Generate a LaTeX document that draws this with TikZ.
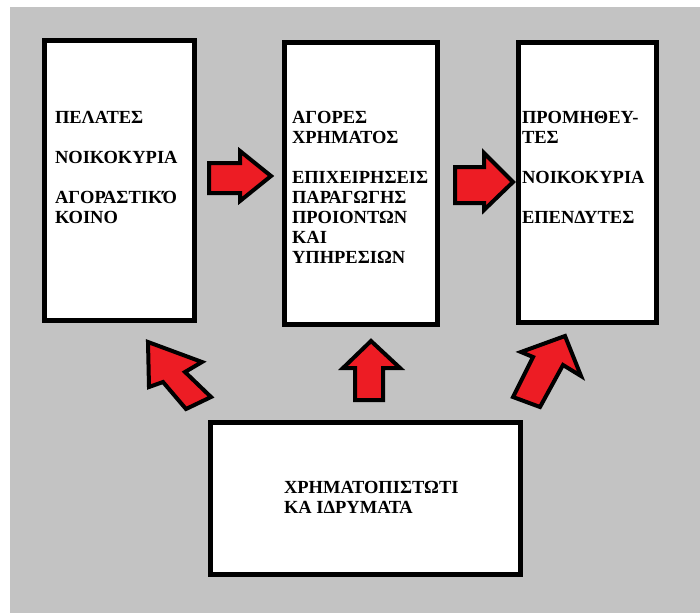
\documentclass[tikz,border=0pt]{standalone}
\usepackage{fontspec}
\setmainfont{Liberation Serif}
\definecolor{bggray}{RGB}{195,195,195}
\definecolor{arrowred}{RGB}{237,28,36}
\begin{document}
\begin{tikzpicture}[x=1pt,y=-1pt,
  box/.style={draw=black,line width=5pt,fill=white,inner sep=0pt,outer sep=0pt},
  label/.style={anchor=north west,inner sep=0pt,outer sep=0pt,align=left,
    font=\fontsize{18.5}{20}\selectfont\bfseries},
  redarrow/.style={fill=arrowred,draw=black,line width=4pt,line join=miter}]
\useasboundingbox (0,0) rectangle (700,613);
\fill[bggray] (10,7) rectangle (700,613);
% boxes
\node[box,minimum width=150pt,minimum height=280pt] (L) at (119.5,180.5) {};
\node[box,minimum width=153pt,minimum height=282pt] (M) at (360.5,183.5) {};
\node[box,minimum width=138pt,minimum height=280pt] (R) at (587.5,182.5) {};
\node[box,minimum width=310pt,minimum height=152pt] (B) at (365.5,498.5) {};
% texts
\node[label] (Lt) at (55,110.8) {ΠΕΛΑΤΕΣ\\[20pt]ΝΟΙΚΟΚΥΡΙΑ\\[20pt]ΑΓΟΡΑΣΤΙΚΌ\\ΚΟΙΝΟ};
\node[label] (Mt) at (292,110.8) {ΑΓΟΡΕΣ\\ΧΡΗΜΑΤΟΣ\\[20pt]ΕΠΙΧΕΙΡΗΣΕΙΣ\\ΠΑΡΑΓΩΓΗΣ\\ΠΡΟΙΟΝΤΩΝ\\ΚΑΙ\\ΥΠΗΡΕΣΙΩΝ};
\node[label] (Rt) at (522,110.8) {ΠΡΟΜΗΘΕΥ-\\ΤΕΣ\\[20pt]ΝΟΙΚΟΚΥΡΙΑ\\[20pt]ΕΠΕΝΔΥΤΕΣ};
\node[label] (Bt) at (284,480.8) {ΧΡΗΜΑΤΟΠΙΣΤΩΤΙ\\ΚΑ ΙΔΡΥΜΑΤΑ};
% block arrows
\draw[redarrow] (209,163) -- (240,163) -- (240,151) -- (271,176) -- (240,201) -- (240,193) -- (209,193) -- cycle;
\draw[redarrow] (455,167) -- (484,167) -- (484,153) -- (513,182) -- (484,210) -- (484,203) -- (455,203) -- cycle;
\draw[redarrow] (371,341) -- (400,368) -- (383,368) -- (383,400) -- (355,400) -- (355,368) -- (343,368) -- cycle;
\draw[redarrow] (148,342) -- (202,362) -- (185,372) -- (211,397) -- (186,409) -- (163,382) -- (149,387) -- cycle;
\draw[redarrow] (565,336) -- (581,376) -- (563,365) -- (540,407) -- (513,397) -- (533,357) -- (521,352) -- cycle;
\end{tikzpicture}
\end{document}
